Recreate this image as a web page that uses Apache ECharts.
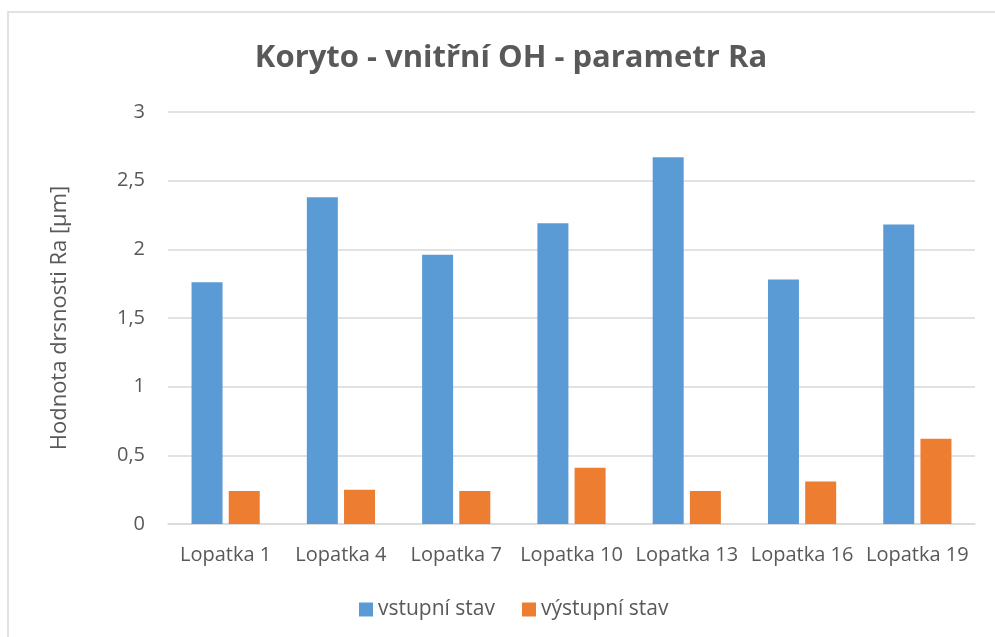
<!DOCTYPE html>
<html>
<head>
<meta charset="utf-8">
<script src="https://cdn.jsdelivr.net/npm/echarts@6/dist/echarts.min.js"></script>
<style>
  html, body { margin: 0; padding: 0; background: #ffffff; }
  #chart { width: 995px; height: 637px; }
</style>
</head>
<body>
<div id="chart"></div>
<script>
// Blade samples and measured roughness Ra [µm]
const categories = ['Lopatka 1', 'Lopatka 4', 'Lopatka 7', 'Lopatka 10', 'Lopatka 13', 'Lopatka 16', 'Lopatka 19'];
const vstupniStav = [1.76, 2.38, 1.96, 2.19, 2.67, 1.78, 2.18];
const vystupniStav = [0.24, 0.25, 0.24, 0.41, 0.24, 0.31, 0.62];
const seriesNames = ['vstupní stav', 'výstupní stav'];

const textColor = '#595959';
const fontFamily = '"Open Sans", "Noto Sans", sans-serif';

const chart = echarts.init(document.getElementById('chart'), null, { renderer: 'canvas' });

chart.setOption({
  backgroundColor: '#ffffff',
  animation: false,
  graphic: [{
    type: 'rect',
    shape: { x: 8, y: 12, width: 1000, height: 700 },
    style: { fill: 'none', stroke: '#d9d9d9', lineWidth: 1.5 },
    silent: true,
    z: -1
  }],
  title: {
    text: 'Koryto - vnitřní OH - parametr Ra',
    left: 506,
    textAlign: 'center',
    top: 38,
    textStyle: {
      color: textColor,
      fontSize: 31,
      fontWeight: 'bold',
      fontFamily: fontFamily
    }
  },
  legend: {
    data: seriesNames,
    top: 594,
    left: 354,
    itemWidth: 14,
    itemHeight: 14,
    itemGap: 27,
    icon: 'rect',
    textStyle: { color: textColor, fontSize: 21, fontFamily: fontFamily }
  },
  grid: {
    left: 168,
    right: 20,
    top: 112,
    bottom: 113,
    containLabel: false
  },
  xAxis: {
    type: 'category',
    data: categories,
    axisLine: { lineStyle: { color: '#d9d9d9', width: 1.5 } },
    axisTick: { show: false },
    axisLabel: { interval: 0, color: textColor, fontSize: 20, fontFamily: fontFamily, margin: 21 }
  },
  yAxis: {
    type: 'value',
    min: 0,
    max: 3,
    interval: 0.5,
    name: 'Hodnota drsnosti Ra [µm]',
    nameLocation: 'middle',
    nameGap: 97,
    nameRotate: 90,
    nameTextStyle: { color: textColor, fontSize: 22, fontFamily: fontFamily },
    axisLine: { show: false },
    axisTick: { show: false },
    axisLabel: {
      color: textColor,
      fontSize: 20,
      fontFamily: fontFamily,
      margin: 23,
      formatter: v => String(v).replace('.', ',')
    },
    splitLine: { lineStyle: { color: '#d9d9d9', width: 1.5 } }
  },
  series: [
    {
      name: seriesNames[0],
      type: 'bar',
      data: vstupniStav,
      barWidth: 31,
      barGap: '20%',
      itemStyle: { color: '#5B9BD5' }
    },
    {
      name: seriesNames[1],
      type: 'bar',
      data: vystupniStav,
      barWidth: 31,
      barGap: '20%',
      itemStyle: { color: '#ED7D31' }
    }
  ]
});
</script>
</body>
</html>
